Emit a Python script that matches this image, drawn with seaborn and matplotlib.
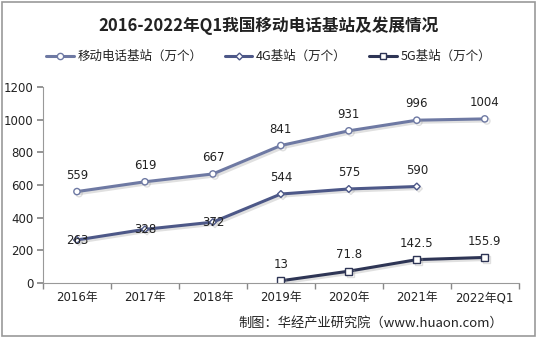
import matplotlib
matplotlib.use("Agg")
import matplotlib.pyplot as plt
import matplotlib.patheffects as pe
from matplotlib.lines import Line2D
import seaborn as sns
import pandas as pd
import numpy as np

categories = ["2016年", "2017年", "2018年", "2019年", "2020年", "2021年", "2022年Q1"]
mobile = [559, 619, 667, 841, 931, 996, 1004]
g4 = [263, 328, 372, 544, 575, 590, None]
g5 = [None, None, None, 13, 71.8, 142.5, 155.9]
series_names = ["移动电话基站（万个）", "4G基站（万个）", "5G基站（万个）"]
mobile_labels = ["559", "619", "667", "841", "931", "996", "1004"]
g4_labels = ["263", "328", "372", "544", "575", "590", None]
g5_labels = [None, None, None, "13", "71.8", "142.5", "155.9"]

sns.set_theme(style="white")
plt.rcParams['font.family'] = ['Noto Sans CJK SC', 'DejaVu Sans']

fig = plt.figure(figsize=(5.37, 3.38), dpi=100)
ax = fig.add_axes([0.080, 0.163, 0.886, 0.580])

colors = ["#6E79A3", "#4D5888", "#2E3555"]
markers = ["o", "D", "s"]
msizes = [4.5, 3.5, 5]
shadow = [pe.SimpleLineShadow(offset=(1.5, -1.5), shadow_color="#999999", alpha=0.3), pe.Normal()]

rows = []
for name, vals in zip(series_names, [mobile, g4, g5]):
    for i, v in enumerate(vals):
        if v is not None:
            rows.append({"x": i, "value": v, "series": name})
df = pd.DataFrame(rows)

for name, c, m, ms in zip(series_names, colors, markers, msizes):
    sub = df[df["series"] == name]
    sns.lineplot(data=sub, x="x", y="value", ax=ax, color=c, linewidth=2.2,
                 marker=m, markersize=ms, markerfacecolor="white",
                 markeredgecolor=c, markeredgewidth=1.0, legend=False,
                 path_effects=shadow)

lab_kw = dict(ha="center", va="bottom", fontsize=8.5, color="#222222", family=['DejaVu Sans'])
for i, (v, t) in enumerate(zip(mobile, mobile_labels)):
    ax.annotate(t, (i, v), xytext=(0, 7), textcoords="offset points", **lab_kw)
for i, (v, t) in enumerate(zip(g4, g4_labels)):
    if t is None:
        continue
    if i < 3:
        ax.annotate(t, (i, v), xytext=(0, -5), textcoords="offset points", **lab_kw)
    else:
        ax.annotate(t, (i, v), xytext=(0, 7), textcoords="offset points", **lab_kw)
for i, (v, t) in enumerate(zip(g5, g5_labels)):
    if t is None:
        continue
    ax.annotate(t, (i, v), xytext=(0, 7), textcoords="offset points", **lab_kw)

ax.set_xlim(-0.5, len(categories) - 0.5)
ax.set_ylim(0, 1200)
ax.set_yticks(np.arange(0, 1201, 200))
ax.set_xticks(range(len(categories)))
ax.set_xticklabels(categories, fontsize=8.5, color="#222222", family=['DejaVu Sans', 'Noto Sans CJK SC'])
ax.set_yticklabels([str(v) for v in range(0, 1201, 200)], fontsize=8.5, color="#222222", family=['DejaVu Sans'])
ax.set_xticks(np.arange(-0.5, len(categories), 1), minor=True)
ax.tick_params(axis="x", which="major", length=0, pad=6)
ax.tick_params(axis="x", which="minor", length=4, color="#888888", direction="out", bottom=True)
ax.tick_params(axis="y", length=4, color="#888888", direction="out", left=True, pad=3)
ax.set_xlabel("")
ax.set_ylabel("")
for s in ["top", "right"]:
    ax.spines[s].set_visible(False)
for s in ["left", "bottom"]:
    ax.spines[s].set_color("#999999")
    ax.spines[s].set_linewidth(0.8)

handles = [Line2D([0], [0], color=c, lw=2.2, marker=m, markersize=ms,
                  markerfacecolor="white", markeredgecolor=c, markeredgewidth=1.0)
           for c, m, ms in zip(colors, markers, msizes)]
fig.legend(handles, series_names, loc="center", bbox_to_anchor=(0.5, 0.832), ncol=3,
           frameon=False, fontsize=9, handlelength=2.2, columnspacing=1.8, handletextpad=0.3,
           labelcolor="#222222")

fig.text(0.5, 0.925, "2016-2022年Q1我国移动电话基站及发展情况", ha="center", va="center",
         fontsize=12, fontweight="bold", color="#222222")
fig.text(0.937, 0.045, "制图：华经产业研究院（www.huaon.com）", ha="right", va="center",
         fontsize=9.5, color="#222222")

border = plt.Rectangle((0.004, 0.006), 0.992, 0.988, transform=fig.transFigure,
                       fill=False, edgecolor="#999999", linewidth=1.2)
fig.patches.append(border)

fig.savefig("out.png", dpi=100)
